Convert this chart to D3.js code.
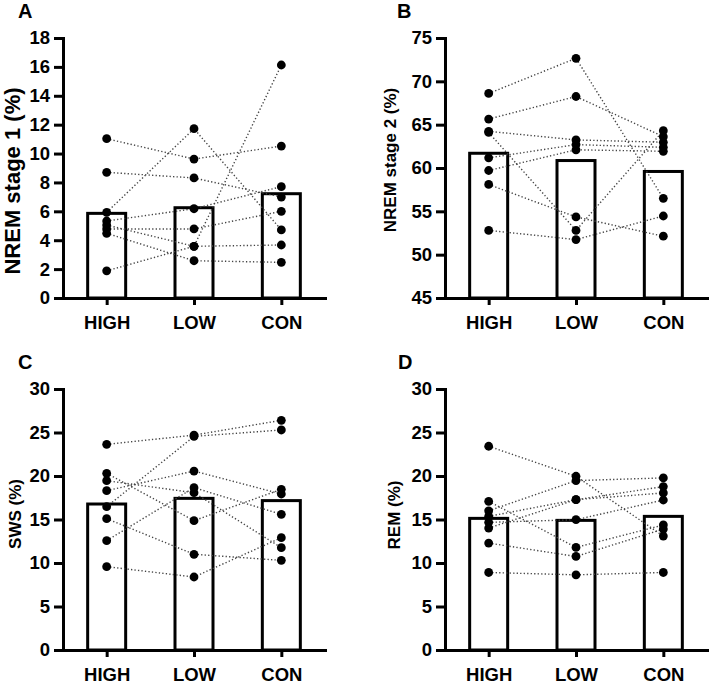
<!DOCTYPE html>
<html>
<head>
<meta charset="utf-8">
<script src="https://cdn.jsdelivr.net/npm/d3@7"></script>
<style>
  html, body { margin: 0; padding: 0; background: #fff; }
  svg { display: block; }
  text { font-family: "Liberation Sans", Arial, sans-serif; font-weight: bold; fill: #000; }
</style>
</head>
<body>
<svg id="chart" width="709" height="684"></svg>
<script>
// ---------- DATA ----------
const categories = ["HIGH", "LOW", "CON"];

// Panel A: NREM stage 1 (%)
const n1High = [11.03, 8.70, 5.93, 5.33, 4.78, 5.05, 4.48, 1.88];
const n1Low  = [9.62, 8.31, 11.72, 6.18, 4.78, 3.58, 2.58, 3.58];
const n1Con  = [10.52, 6.99, 4.71, 7.71, 6.00, 16.13, 2.47, 3.67];
const n1Mean = [5.86, 6.25, 7.22];
const n1Ticks = [0, 2, 4, 6, 8, 10, 12, 14, 16, 18];

// Panel B: NREM stage 2 (%)
const n2High = [68.6, 65.65, 64.23, 64.1, 61.17, 59.71, 58.1, 52.8];
const n2Low  = [72.66, 68.25, 63.24, 52.8, 62.7, 62.1, 54.35, 51.74];
const n2Con  = [56.5, 63.62, 62.97, 64.31, 62.39, 61.93, 52.13, 54.46];
const n2Mean = [61.7, 60.86, 59.6];
const n2Ticks = [45, 50, 55, 60, 65, 70, 75];

// Panel C: SWS (%)
const swsHigh = [23.64, 20.31, 19.46, 18.31, 16.47, 15.1, 12.57, 9.58];
const swsLow  = [24.7, 14.87, 18.08, 20.57, 24.55, 11.0, 18.66, 8.39];
const swsCon  = [26.4, 18.47, 11.76, 17.93, 25.29, 10.31, 15.59, 12.91];
const swsMean = [16.78, 17.43, 17.17];
const swsTicks = [0, 5, 10, 15, 20, 25, 30];

// Panel D: REM (%)
const remHigh = [23.42, 17.09, 16.0, 15.36, 14.67, 14.02, 12.29, 8.91];
const remLow  = [19.97, 11.79, 19.47, 17.28, 14.98, 17.28, 10.75, 8.64];
const remCon  = [13.1, 14.37, 19.78, 18.78, 17.24, 18.05, 13.9, 8.91];
const remMean = [15.13, 14.9, 15.36];
const remTicks = [0, 5, 10, 15, 20, 25, 30];

// ---------- LAYOUT ----------
const panels = [
  { letter: "A", label: "NREM stage 1 (%)", high: n1High, low: n1Low, con: n1Con, mean: n1Mean, ticks: n1Ticks,
    x0: 63, x1: 325, yTop: 38, yBot: 298, letterX: 18, letterY: 18, labelX: 20, labelY: 181, labelSize: 22 },
  { letter: "B", label: "NREM stage 2 (%)", high: n2High, low: n2Low, con: n2Con, mean: n2Mean, ticks: n2Ticks,
    x0: 445, x1: 707, yTop: 38, yBot: 298, letterX: 397, letterY: 18, labelX: 396, labelY: 160, labelSize: 17 },
  { letter: "C", label: "SWS (%)", high: swsHigh, low: swsLow, con: swsCon, mean: swsMean, ticks: swsTicks,
    x0: 63, x1: 325, yTop: 389, yBot: 650, letterX: 18, letterY: 369, labelX: 21, labelY: 514, labelSize: 17 },
  { letter: "D", label: "REM (%)", high: remHigh, low: remLow, con: remCon, mean: remMean, ticks: remTicks,
    x0: 445, x1: 707, yTop: 389, yBot: 650, letterX: 398, letterY: 369, labelX: 400, labelY: 515, labelSize: 17 }
];

const svg = d3.select("#chart");

panels.forEach(p => {
  const g = svg.append("g");
  const x = d3.scalePoint().domain(categories).range([p.x0, p.x1]).padding(0.5);
  const y = d3.scaleLinear().domain([p.ticks[0], p.ticks[p.ticks.length - 1]]).range([p.yBot, p.yTop]);
  const barW = 38;

  // bars
  g.selectAll("rect.bar").data(categories).join("rect")
    .attr("class", "bar")
    .attr("x", c => x(c) - barW / 2)
    .attr("width", barW)
    .attr("y", (c, i) => y(p.mean[i]))
    .attr("height", (c, i) => y(p.ticks[0]) - y(p.mean[i]))
    .attr("fill", "none")
    .attr("stroke", "#000")
    .attr("stroke-width", 3);

  // subject lines
  const subjects = p.high.map((h, i) => [h, p.low[i], p.con[i]]);
  const line = d3.line().x((v, i) => x(categories[i])).y(v => y(v));
  g.selectAll("path.subj").data(subjects).join("path")
    .attr("class", "subj")
    .attr("d", line)
    .attr("fill", "none")
    .attr("stroke", "#444")
    .attr("stroke-width", 1.4)
    .attr("stroke-dasharray", "1.3,2.2");

  // points
  const pts = [];
  subjects.forEach(s => s.forEach((v, i) => pts.push({ c: categories[i], v })));
  g.selectAll("circle").data(pts).join("circle")
    .attr("cx", d => x(d.c))
    .attr("cy", d => y(d.v))
    .attr("r", 4.4)
    .attr("fill", "#000");

  // axes
  const yAxis = d3.axisLeft(y).tickValues(p.ticks).tickSize(9).tickSizeOuter(0).tickPadding(4).tickFormat(d3.format("d"));
  const ya = g.append("g").attr("transform", `translate(${p.x0},0)`).call(yAxis);
  const xAxis = d3.axisBottom(x).tickSize(7).tickSizeOuter(0).tickPadding(11);
  const xa = g.append("g").attr("transform", `translate(0,${p.yBot})`).call(xAxis);
  [ya, xa].forEach(a => {
    a.select(".domain").attr("stroke", "#000").attr("stroke-width", 3).attr("stroke-linecap", "square");
    a.selectAll(".tick line").attr("stroke", "#000").attr("stroke-width", 3);
    a.selectAll(".tick text").style("font-family", '"Liberation Sans", Arial, sans-serif')
      .style("font-weight", "bold").style("font-size", "18.5px").attr("fill", "#000");
  });

  // y label
  g.append("text")
    .attr("transform", `translate(${p.labelX},${p.labelY}) rotate(-90)`)
    .attr("text-anchor", "middle")
    .style("font-size", p.labelSize + "px")
    .text(p.label);

  // panel letter
  g.append("text")
    .attr("x", p.letterX).attr("y", p.letterY)
    .style("font-size", "20px")
    .text(p.letter);
});
</script>
</body>
</html>
